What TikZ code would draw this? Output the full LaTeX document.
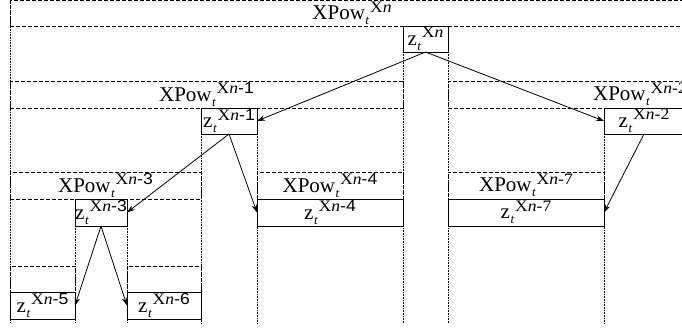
\documentclass[tikz,border=0pt]{standalone}
\usepackage{fontspec}
\setmainfont{Liberation Serif}
\setsansfont{Liberation Sans}
\usepackage{tikz}
\usetikzlibrary{arrows.meta, positioning, calc}
\newcommand{\subfont}{\fontsize{13}{13}\selectfont\itshape}
\newcommand{\supfont}{\fontsize{16}{16}\selectfont}
\newcommand{\subsup}[2]{\kern0.5pt\raisebox{-5pt}{\subfont #1}\kern1pt\raisebox{7.5pt}{\scalebox{1.1}[1]{\supfont #2}}}
\newcommand{\lsup}[1]{X\textit{n}{\sffamily #1}}
\newcommand{\rsup}[1]{X\textit{n}#1}
\newcommand{\zt}[1]{z\subsup{t}{#1}}
\newcommand{\xpow}[1]{XPow\subsup{t}{#1}}
\tikzset{
    zbox/.style={
        draw, line width=0.8pt, anchor=north west, inner sep=0pt, outer sep=0pt,
        fill=white, font=\fontsize{21}{24}\selectfont
    },
    band/.style={
        draw, dash pattern=on 4pt off 2pt, line width=0.6pt, anchor=north west,
        inner sep=0pt, outer sep=0pt, font=\fontsize{21}{24}\selectfont
    },
    guide/.style={
        densely dotted, line width=0.6pt
    },
    link/.style={
        -{Stealth[length=8pt,width=5.5pt]}, line width=0.8pt
    }
}
\begin{document}
\begin{tikzpicture}[x=1pt, y=-1pt]
    \useasboundingbox (0,0) rectangle (682,332);
    \coordinate (floor) at (0,323);
    \coordinate (rim) at (10,0);

    % power bands
    \node[band, minimum width=684, minimum height=25.5] (pn) at (10,0.5) {\xpow{X\textit{n}}};
    \node[band, minimum width=393, minimum height=27] (pn1) at (10,81) {\xpow{\lsup{-1}}};
    \node[band, minimum width=384, minimum height=27] (pn2) at (448,81) {\xpow{\rsup{-2}}};
    \node[band, minimum width=191, minimum height=27] (pn3) at (10,172) {\xpow{\lsup{-3}}};
    \node[band, minimum width=146, minimum height=27] (pn4) at (257,172) {\xpow{\lsup{-4}}};
    \node[band, minimum width=156, minimum height=27] (pn7) at (448,172) {\xpow{\rsup{-7}}};
    \node[band, minimum width=65, minimum height=26] (pn5) at (10,266) {};
    \node[band, minimum width=74, minimum height=26] (pn6) at (127,266) {};

    % z boxes
    \node[zbox, minimum width=45, minimum height=26] (zn) at (403,26) {\zt{X\textit{n}}};
    \node[zbox, minimum width=56, minimum height=26] (zn1) at (201,108) {\zt{\lsup{-1}}};
    \node[zbox, minimum width=80, minimum height=26] (zn2) at (604,108) {\zt{\rsup{-2}}};
    \node[zbox, minimum width=52, minimum height=27] (zn3) at (75,199) {\zt{\lsup{-3}}};
    \node[zbox, minimum width=146, minimum height=27] (zn4) at (257,199) {\zt{\lsup{-4}}};
    \node[zbox, minimum width=156, minimum height=27] (zn7) at (448,199) {\zt{\rsup{-7}}};
    \node[zbox, minimum width=65, minimum height=27] (zn5) at (10,292) {\zt{\lsup{-5}}};
    \node[zbox, minimum width=74, minimum height=27] (zn6) at (127,292) {\zt{\lsup{-6}}};

    % column guides
    \draw[guide] (rim) -- (rim |- floor);
    \draw[guide] (zn.south west) -- (zn.south west |- floor);
    \draw[guide] (zn.south east) -- (zn.south east |- floor);
    \draw[guide] (zn1.south west) -- (zn1.south west |- floor);
    \draw[guide] (zn1.south east) -- (zn1.south east |- floor);
    \draw[guide] (zn2.south west) -- (zn2.south west |- floor);
    \draw[guide] (zn3.south west) -- (zn3.south west |- floor);
    \draw[guide] (zn3.south east) -- (zn3.south east |- floor);

    % recursion
    \draw[link] (zn.south) -- (zn1.east);
    \draw[link] (zn.south) -- (zn2.west);
    \draw[link] (zn1.south) -- (zn3.east);
    \draw[link] (zn1.south) -- (zn4.west);
    \draw[link] (zn2.south) -- (zn7.east);
    \draw[link] (zn3.south) -- (zn5.east);
    \draw[link] (zn3.south) -- (zn6.west);
\end{tikzpicture}
\end{document}
